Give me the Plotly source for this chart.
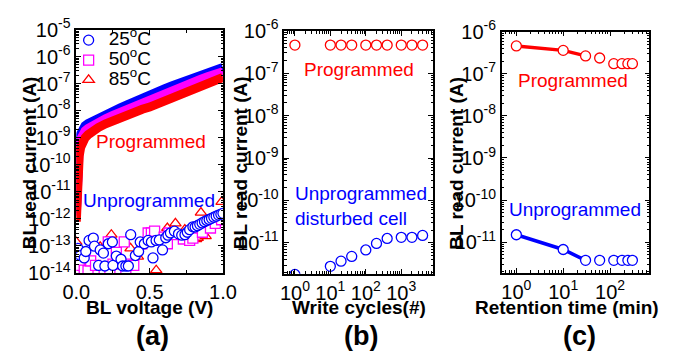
import plotly.graph_objects as go

# ---------------- data ----------------
# (a) programmed I-V curves
v_prog = [0, 0.005, 0.01, 0.015, 0.02, 0.03, 0.04, 0.06, 0.08, 0.1, 0.15, 0.2, 0.25, 0.3,
          0.35, 0.4, 0.45, 0.5, 0.55, 0.6, 0.65, 0.7, 0.75, 0.8, 0.85, 0.9, 0.95, 1.0]
i_prog_25 = [1.6e-12, 2.5e-11, 2.0e-10, 5.0e-10, 7.9e-10, 1.4e-9, 2.0e-9, 2.8e-9, 3.4e-9, 3.9e-9,
             5.6e-9, 7.6e-9, 1.0e-8, 1.3e-8, 1.7e-8, 2.3e-8, 3.0e-8, 3.9e-8, 5.0e-8, 6.5e-8,
             8.3e-8, 1.07e-7, 1.35e-7, 1.7e-7, 2.1e-7, 2.7e-7, 3.3e-7, 4.0e-7]
i_prog_50 = [1.3e-12, 1.6e-11, 1.1e-10, 3.2e-10, 5.0e-10, 8.9e-10, 1.26e-9, 1.8e-9, 2.2e-9, 2.6e-9,
             3.8e-9, 5.1e-9, 6.8e-9, 8.9e-9, 1.17e-8, 1.55e-8, 2.0e-8, 2.6e-8, 3.4e-8, 4.4e-8,
             5.6e-8, 7.2e-8, 9.3e-8, 1.17e-7, 1.48e-7, 1.86e-7, 2.3e-7, 2.8e-7]
i_prog_85 = [7.9e-13, 1.0e-11, 5.0e-11, 1.26e-10, 2.2e-10, 4.5e-10, 6.3e-10, 1.0e-9, 1.3e-9, 1.6e-9,
             2.4e-9, 3.3e-9, 4.4e-9, 5.8e-9, 7.4e-9, 9.5e-9, 1.15e-8, 1.38e-8, 1.78e-8, 2.3e-8,
             2.95e-8, 3.8e-8, 4.9e-8, 6.3e-8, 8.1e-8, 1.05e-7, 1.35e-7, 1.74e-7]

# (a) unprogrammed cells
v_un_25 = [0.011, 0.028, 0.054, 0.065, 0.087, 0.116, 0.124, 0.152, 0.163, 0.185, 0.195, 0.218,
           0.246, 0.25, 0.273, 0.305, 0.316, 0.338, 0.355, 0.371, 0.403, 0.425, 0.436, 0.464,
           0.49, 0.512, 0.523, 0.544, 0.566, 0.588, 0.61, 0.625, 0.642, 0.669, 0.697, 0.719,
           0.741, 0.757, 0.773, 0.795, 0.81, 0.826, 0.842, 0.858, 0.874, 0.89, 0.906, 0.922,
           0.938, 0.954, 0.97, 0.986, 1.0]
i_un_25 = [8.1e-14, 4.4e-14, 3.6e-14, 6.2e-14, 1.6e-13, 1.95e-13, 9.8e-14, 1.9e-14, 7.1e-14,
           5.4e-14, 1.8e-14, 1.2e-13, 1.4e-13, 1.9e-14, 4.2e-14, 3.2e-14, 1.8e-14, 1.8e-14,
           1.8e-14, 2.6e-13, 4.4e-14, 6.2e-14, 1.4e-13, 1.2e-13, 1.6e-13, 1.4e-13, 3.6e-14,
           1.6e-13, 1.66e-13, 7.1e-14, 2.0e-13, 2.5e-13, 3.0e-13, 3.5e-13, 2.8e-13, 2.5e-13,
           2.6e-13, 3.2e-13, 4.0e-13, 5.1e-13, 5.0e-13, 5.6e-13, 6.3e-13, 7.1e-13, 7.9e-13,
           8.7e-13, 9.5e-13, 1.05e-12, 1.15e-12, 1.26e-12, 1.38e-12, 1.5e-12, 1.6e-12]
v_un_50 = [0.011, 0.02, 0.054, 0.08, 0.098, 0.131, 0.19, 0.218, 0.229, 0.25, 0.273, 0.327,
           0.338, 0.359, 0.392, 0.447, 0.49, 0.512, 0.534, 0.599, 0.621, 0.632, 0.664, 0.73,
           0.773, 0.795, 0.86, 0.915, 0.948, 0.991]
i_un_50 = [4.2e-14, 1.9e-14, 1.26e-14, 1.2e-14, 2.8e-14, 1.9e-14, 1.2e-14, 1.4e-13, 1.45e-14,
           2.1e-14, 5.8e-14, 1.4e-13, 1.45e-14, 2.1e-14, 1.9e-14, 1.2e-13, 3.0e-13, 3.0e-13,
           3.5e-13, 2.1e-13, 1.2e-13, 3.0e-13, 2.6e-13, 1.8e-13, 1.6e-13, 1.95e-13, 3.2e-13,
           4.6e-13, 6.8e-13, 9.3e-13]
v_un_85 = [0.0, 0.054, 0.1, 0.163, 0.174, 0.239, 0.29, 0.338, 0.37, 0.42, 0.479, 0.545, 0.556,
           0.6, 0.621, 0.676, 0.72, 0.74, 0.763, 0.817, 0.828, 0.85, 0.882, 0.915, 0.958, 0.991]
i_un_85 = [1.4e-13, 5.4e-14, 2.5e-14, 9.3e-14, 7.1e-14, 2.6e-13, 3.2e-14, 1.2e-13, 8.1e-14,
           4.0e-14, 2.0e-13, 1.26e-14, 2.6e-13, 1.8e-13, 4.6e-13, 6.8e-13, 2.5e-13, 4.0e-13,
           2.3e-13, 1.8e-13, 2.0e-13, 1.7e-12, 2.3e-13, 6.8e-13, 1.3e-12, 4.3e-12]

# (b) write-disturb
cycles = [1, 10, 20, 40, 100, 200, 400, 1000, 2000, 4000]
i_b_prog = [4.6e-7] * 10
i_b_unprog = [1.8e-12, 2.8e-12, 3.7e-12, 4.8e-12, 6.8e-12, 9.7e-12, 1.27e-11, 1.35e-11,
              1.35e-11, 1.5e-11]

# (c) retention
ret_time = [1, 10, 30, 60, 120, 180, 240, 300]
i_c_prog = [4.6e-7, 3.6e-7, 2.66e-7, 2.37e-7, 1.74e-7, 1.74e-7, 1.74e-7, 1.74e-7]
i_c_unprog = [1.5e-11, 6.7e-12, 3.7e-12, 3.7e-12, 3.7e-12, 3.7e-12, 3.7e-12, 3.7e-12]

# tick labels
a_y_ticks = [10.0 ** e for e in range(-14, -4)]
a_y_text = ["10<sup>%d</sup>" % e for e in range(-14, -4)]
bc_y_ticks = [10.0 ** e for e in range(-11, -5)]
bc_y_text = ["10<sup>%d</sup>" % e for e in range(-11, -5)]
b_x_ticks = [1, 10, 100, 1000]
b_x_text = ["10<sup>0</sup>", "10<sup>1</sup>", "10<sup>2</sup>", "10<sup>3</sup>"]
c_x_ticks = [1, 10, 100]
c_x_text = ["10<sup>0</sup>", "10<sup>1</sup>", "10<sup>2</sup>"]
legend_names = ["25<sup>o</sup>C", "50<sup>o</sup>C", "85<sup>o</sup>C"]

# ---------------- style ----------------
W, H = 673, 364
BLUE, MAG, RED = "#0000FF", "#FF00FF", "#FF0000"
FONT = "Liberation Sans, Arial, sans-serif"


def fx(p):
    return p / W


def fy(p):
    return 1 - p / H


def big(t):
    return '<span style="font-size:19px">' + t + '</span>'


fig = go.Figure()

# (a) programmed bands
for ys, col in [(i_prog_25, BLUE), (i_prog_50, MAG), (i_prog_85, RED)]:
    fig.add_trace(go.Scatter(x=v_prog, y=ys, mode="lines", line=dict(color=col, width=9),
                             showlegend=False, xaxis="x", yaxis="y"))
# (a) unprogrammed markers
for xs, ys, col, sym, name, rank in [
        (v_un_85, i_un_85, RED, "triangle-up", legend_names[2], 3),
        (v_un_50, i_un_50, MAG, "square", legend_names[1], 2),
        (v_un_25, i_un_25, BLUE, "circle", legend_names[0], 1)]:
    fig.add_trace(go.Scatter(x=xs, y=ys, mode="markers", name=big(name), legendrank=rank,
                             marker=dict(symbol=sym, size=10, color="white",
                                         line=dict(color=col, width=1.3)),
                             xaxis="x", yaxis="y"))

# (b)
fig.add_trace(go.Scatter(x=cycles, y=i_b_prog, mode="markers", showlegend=False,
                         marker=dict(symbol="circle", size=10, color="white",
                                     line=dict(color=RED, width=1.3)),
                         xaxis="x2", yaxis="y2"))
fig.add_trace(go.Scatter(x=cycles, y=i_b_unprog, mode="markers", showlegend=False,
                         marker=dict(symbol="circle", size=10, color="white",
                                     line=dict(color=BLUE, width=1.3)),
                         xaxis="x2", yaxis="y2"))

# (c)
for ys, col in [(i_c_prog, RED), (i_c_unprog, BLUE)]:
    fig.add_trace(go.Scatter(x=ret_time[:3], y=ys[:3], mode="lines", showlegend=False,
                             line=dict(color=col, width=3.5), xaxis="x3", yaxis="y3"))
    fig.add_trace(go.Scatter(x=ret_time, y=ys, mode="markers", showlegend=False,
                             marker=dict(symbol="circle", size=10, color="white",
                                         line=dict(color=col, width=1.3)),
                             xaxis="x3", yaxis="y3"))

axis_common = dict(showline=True, linecolor="black", linewidth=1.5, mirror="ticks",
                   ticks="inside", ticklen=5, tickwidth=1.2, tickcolor="black",
                   showgrid=False, zeroline=False,
                   tickfont=dict(family=FONT, size=20, color="black"))

log_minor = dict(ticks="inside", ticklen=3, tickwidth=1, tickcolor="black", dtick="D1",
                 showgrid=False)
log_minor_y = dict(ticks="inside", ticklen=2.5, tickwidth=0.8, tickcolor="black", dtick="D1",
                   showgrid=False)

fig.update_layout(
    width=W, height=H,
    margin=dict(l=0, r=0, t=0, b=0),
    paper_bgcolor="white", plot_bgcolor="white",
    font=dict(family=FONT, color="black"),
    xaxis=dict(domain=[fx(65), fx(218)], range=[0, 1.0], tickvals=[0, 0.5, 1.0],
               ticktext=["0.0", "0.5", "1.0"],
               minor=dict(ticks="inside", ticklen=3, tickwidth=1, tickcolor="black",
                          tickvals=[0.25, 0.75]),
               anchor="y", **axis_common),
    yaxis=dict(domain=[fy(278), fy(17)], type="log", range=[-14, -5],
               tickvals=a_y_ticks, ticktext=a_y_text, minor=log_minor_y,
               anchor="x", **axis_common),
    xaxis2=dict(domain=[fx(282), fx(437)], type="log", range=[-0.3, 3.89],
                tickvals=b_x_ticks, ticktext=b_x_text, minor=log_minor,
                anchor="y2", **axis_common),
    yaxis2=dict(domain=[fy(279), fy(18)], type="log", range=[-11.73, -6],
                tickvals=bc_y_ticks, ticktext=bc_y_text, minor=log_minor_y,
                anchor="x2", **axis_common),
    xaxis3=dict(domain=[fx(509), fx(663)], type="log", range=[-0.31, 2.84],
                tickvals=c_x_ticks, ticktext=c_x_text, minor=log_minor,
                anchor="y3", **axis_common),
    yaxis3=dict(domain=[fy(278), fy(19)], type="log", range=[-11.73, -6],
                tickvals=bc_y_ticks, ticktext=bc_y_text, minor=log_minor_y,
                anchor="x3", **axis_common),
    legend=dict(x=fx(57), y=fy(12), xanchor="left", yanchor="top",
                bgcolor="rgba(0,0,0,0)", borderwidth=0,
                font=dict(family=FONT, size=13, color="black")),
    showlegend=True,
)

ann = []


def add_text(text, x, y, size, color="black", bold=False, angle=0, xanchor="center", align="center"):
    if bold:
        text = "<b>" + text + "</b>"
    ann.append(dict(text=text, x=fx(x), y=fy(y), xref="paper", yref="paper",
                    showarrow=False, xanchor=xanchor, yanchor="middle", align=align,
                    textangle=angle, font=dict(family=FONT, size=size, color=color)))


add_text("Programmed", 143, 137, 19, RED)
add_text("Unprogrammed", 141, 200, 19, BLUE)
add_text("Programmed", 360, 60, 19, RED)
add_text("Unprogrammed<br>disturbed cell", 291, 206, 19, BLUE, xanchor="left", align="left")
add_text("Programmed", 583, 71, 19, RED)
add_text("Unprogrammed", 585, 210, 19, BLUE)

add_text("BL voltage (V)", 141, 315, 19, bold=True)
add_text("Write cycles(#)", 360, 315, 19, bold=True)
add_text("Retention time (min)", 577, 315, 19, bold=True)
for xc in (16, 236, 461):
    add_text("BL read current (A)", xc, 160, 19, bold=True, angle=-90)
add_text("(a)", 145, 346, 27, bold=True)
add_text("(b)", 362, 346, 27, bold=True)
add_text("(c)", 590, 346, 27, bold=True)

fig.update_layout(annotations=ann)

fig.write_html("out.html")
